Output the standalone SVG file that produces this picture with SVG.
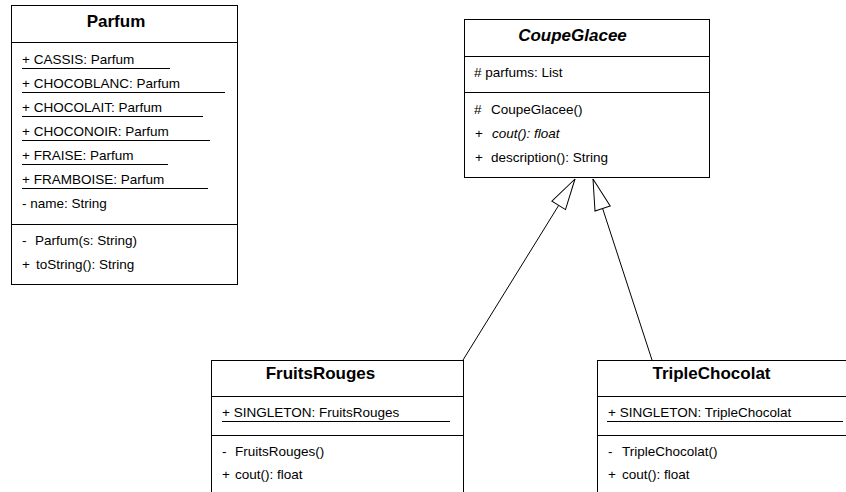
<svg xmlns="http://www.w3.org/2000/svg" width="846" height="492" viewBox="0 0 846 492">
<style>
.box{fill:#fff;stroke:#000;stroke-width:1}
.div{stroke:#000;stroke-width:1}
.ul{stroke:#000;stroke-width:1}
.t{font-family:"Liberation Sans",Arial,sans-serif;font-size:13.5px;fill:#000}
.it{font-style:italic}
.h{font-family:"Liberation Sans",Arial,sans-serif;font-size:17px;font-weight:bold;fill:#000;text-anchor:middle}
.edge{fill:none;stroke:#000;stroke-width:1}
</style>
<defs>
<marker id="gen" markerUnits="userSpaceOnUse" orient="auto" refX="0" refY="0" markerWidth="40" markerHeight="20" overflow="visible">
<path d="M0,0 L-31,-8 L-31,8 Z" fill="#fff" stroke="#000" stroke-width="1"/>
</marker>
</defs>
<rect width="846" height="492" fill="#fff"/>
<g id="connectors">
<line class="edge" x1="463" y1="360" x2="575" y2="179" marker-end="url(#gen)"/>
<line class="edge" x1="652" y1="360" x2="593" y2="179" marker-end="url(#gen)"/>
</g>
<g id="Parfum">
<rect class="box" x="11.5" y="5.5" width="226" height="279"/>
<line class="div" x1="11.5" y1="42.5" x2="237.5" y2="42.5"/>
<line class="div" x1="11.5" y1="224.5" x2="237.5" y2="224.5"/>
<text class="h" x="116" y="26.5">Parfum</text>
<text class="t" x="22" y="64">+ CASSIS: Parfum</text>
<line class="ul" x1="22" y1="68.5" x2="170" y2="68.5"/>
<text class="t" x="22" y="88">+ CHOCOBLANC: Parfum</text>
<line class="ul" x1="22" y1="92.5" x2="225" y2="92.5"/>
<text class="t" x="22" y="112">+ CHOCOLAIT: Parfum</text>
<line class="ul" x1="22" y1="116.5" x2="203" y2="116.5"/>
<text class="t" x="22" y="136">+ CHOCONOIR: Parfum</text>
<line class="ul" x1="22" y1="140.5" x2="210" y2="140.5"/>
<text class="t" x="22" y="160">+ FRAISE: Parfum</text>
<line class="ul" x1="22" y1="164.5" x2="168" y2="164.5"/>
<text class="t" x="22" y="184">+ FRAMBOISE: Parfum</text>
<line class="ul" x1="22" y1="188.5" x2="208" y2="188.5"/>
<text class="t" x="22" y="208">- name: String</text>
<text class="t" y="245"><tspan x="22">-</tspan><tspan x="35">Parfum(s: String)</tspan></text>
<text class="t" y="269"><tspan x="22">+</tspan><tspan x="36">toString(): String</tspan></text>
</g>
<g id="CoupeGlacee">
<rect class="box" x="464.5" y="19.5" width="245" height="158"/>
<line class="div" x1="464.5" y1="56.5" x2="709.5" y2="56.5"/>
<line class="div" x1="464.5" y1="92.5" x2="709.5" y2="92.5"/>
<text class="h it" x="572.5" y="40.5">CoupeGlacee</text>
<text class="t" x="474" y="77"># parfums: List</text>
<text class="t" y="114"><tspan x="474">#</tspan><tspan x="491">CoupeGlacee()</tspan></text>
<text class="t" y="138"><tspan x="475">+</tspan><tspan class="it" x="492">cout(): float</tspan></text>
<text class="t" y="162"><tspan x="475">+</tspan><tspan x="491">description(): String</tspan></text>
</g>
<g id="FruitsRouges">
<rect class="box" x="211.5" y="360.5" width="252" height="140"/>
<line class="div" x1="211.5" y1="396.5" x2="463.5" y2="396.5"/>
<line class="div" x1="211.5" y1="435.5" x2="463.5" y2="435.5"/>
<text class="h" x="320.5" y="379">FruitsRouges</text>
<text class="t" x="222" y="417">+ SINGLETON: FruitsRouges</text>
<line class="ul" x1="222" y1="421.5" x2="450" y2="421.5"/>
<text class="t" y="455.5"><tspan x="222">-</tspan><tspan x="235">FruitsRouges()</tspan></text>
<text class="t" y="479"><tspan x="222">+</tspan><tspan x="235">cout(): float</tspan></text>
</g>
<g id="TripleChocolat">
<rect class="box" x="597.5" y="360.5" width="260" height="140"/>
<line class="div" x1="597.5" y1="396.5" x2="857" y2="396.5"/>
<line class="div" x1="597.5" y1="435.5" x2="857" y2="435.5"/>
<text class="h" x="711.5" y="379">TripleChocolat</text>
<text class="t" x="608" y="417">+ SINGLETON: TripleChocolat</text>
<line class="ul" x1="607" y1="421.5" x2="843" y2="421.5"/>
<text class="t" y="455.5"><tspan x="608">-</tspan><tspan x="622">TripleChocolat()</tspan></text>
<text class="t" y="479"><tspan x="608">+</tspan><tspan x="622">cout(): float</tspan></text>
</g>
</svg>
